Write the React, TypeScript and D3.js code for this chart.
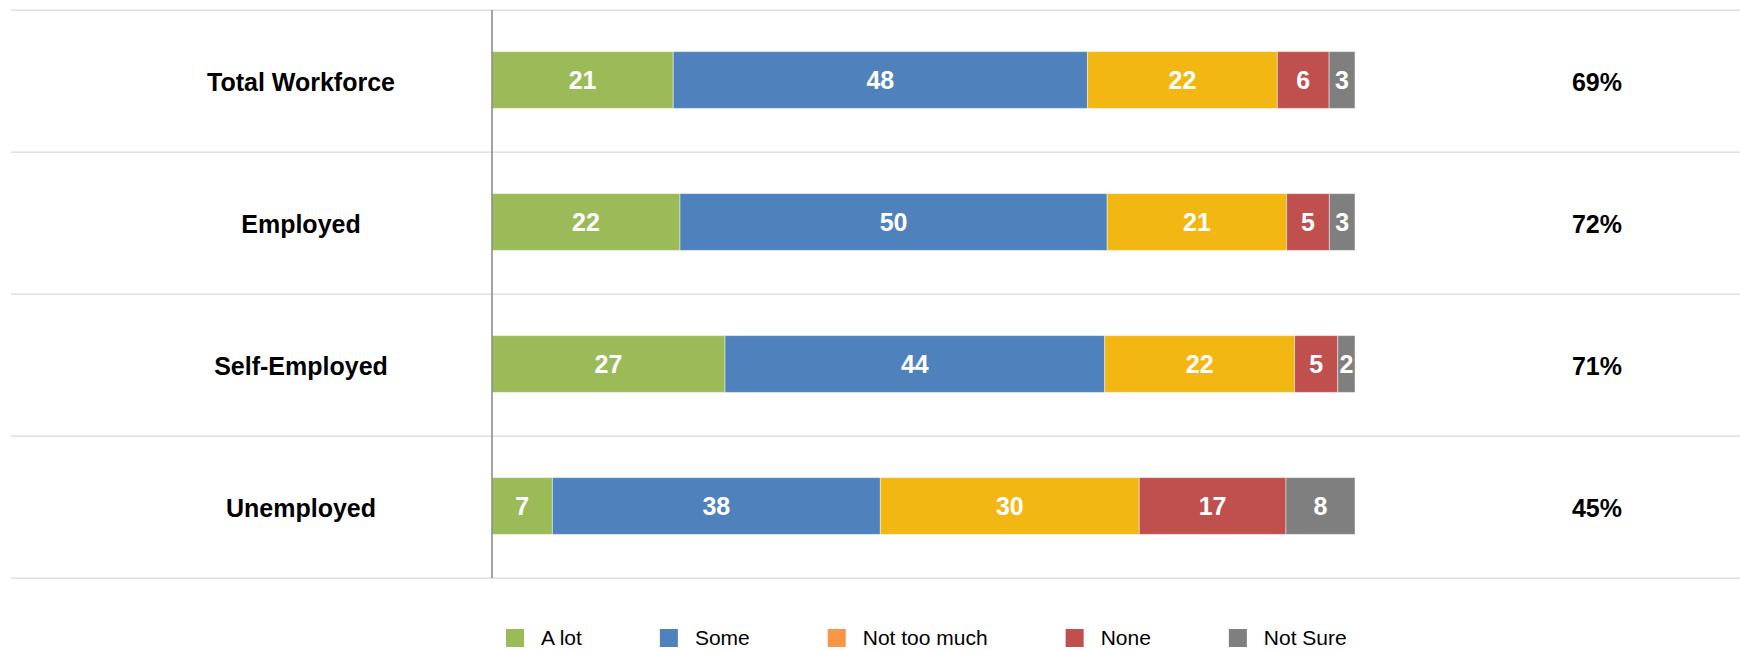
import React, { useEffect, useRef } from "react";
import * as d3 from "d3";

const categories = ["Total Workforce", "Employed", "Self-Employed", "Unemployed"];
const seriesNames = ["A lot", "Some", "Not too much", "None", "Not Sure"];
const aLot = [21, 22, 27, 7];
const some = [48, 50, 44, 38];
const notTooMuch = [22, 21, 22, 30];
const none = [6, 5, 5, 17];
const notSure = [3, 3, 2, 8];
const netPct = ["69%", "72%", "71%", "45%"];

const barColors = ["#9BBB59", "#4F81BD", "#F3B714", "#C0504D", "#7F7F7F"];
const legendColors = ["#9BBB59", "#4F81BD", "#F79646", "#C0504D", "#7F7F7F"];

const W = 1740;
const H = 650;
const FONT = "'Liberation Sans', Arial, sans-serif";

export default function App() {
  const ref = useRef<SVGSVGElement | null>(null);

  useEffect(() => {
    const svg = d3.select(ref.current);
    svg.selectAll("*").remove();

    const seriesArrays = [aLot, some, notTooMuch, none, notSure];
    const rows = categories.map((c, i) => {
      const r: any = { cat: c };
      seriesNames.forEach((s, j) => (r[s] = seriesArrays[j][i]));
      return r;
    });

    const stack = d3.stack<any>().keys(seriesNames).offset(d3.stackOffsetExpand);
    const stacked = stack(rows);

    const x = d3.scaleLinear().domain([0, 1]).range([492, 1355]);
    const y = d3
      .scaleBand<string>()
      .domain(categories)
      .range([10, 578])
      .paddingInner(0.6)
      .paddingOuter(0.3);

    svg.append("rect").attr("width", W).attr("height", H).attr("fill", "#fff");

    // gridlines at band boundaries
    const step = y.step();
    const bounds = d3.range(categories.length + 1).map((i) => 10 + i * step);
    svg
      .append("g")
      .selectAll("line")
      .data(bounds)
      .join("line")
      .attr("x1", 11)
      .attr("x2", W)
      .attr("y1", (d) => d)
      .attr("y2", (d) => d)
      .attr("stroke", "#D9D9D9")
      .attr("stroke-width", 1.25);

    // bars
    const g = svg.append("g");
    stacked.forEach((layer, si) => {
      const lg = g.append("g");
      lg.selectAll("rect")
        .data(layer)
        .join("rect")
        .attr("x", (d) => x(d[0]))
        .attr("width", (d) => x(d[1]) - x(d[0]))
        .attr("y", (d: any) => y(d.data.cat)! - 1)
        .attr("height", y.bandwidth())
        .attr("fill", barColors[si])
        .attr("stroke", "#ffffff")
        .attr("stroke-opacity", 0.45)
        .attr("stroke-width", 1);
      lg.selectAll("text")
        .data(layer)
        .join("text")
        .attr("x", (d) => (x(d[0]) + x(d[1])) / 2)
        .attr("y", (d: any) => y(d.data.cat)! - 1 + y.bandwidth() / 2)
        .attr("dy", "0.36em")
        .attr("text-anchor", "middle")
        .attr("fill", "#fff")
        .attr("font-family", FONT)
        .attr("font-weight", "bold")
        .attr("font-size", 25)
        .text((d: any) => d.data[seriesNames[si]]);
    });

    // axis line
    svg
      .append("line")
      .attr("x1", 492)
      .attr("x2", 492)
      .attr("y1", 10)
      .attr("y2", 578)
      .attr("stroke", "#868686")
      .attr("stroke-width", 1.5);

    // category labels
    svg
      .append("g")
      .selectAll("text")
      .data(categories)
      .join("text")
      .attr("x", 301)
      .attr("y", (d) => y(d)! + y.bandwidth() / 2)
      .attr("dy", "0.38em")
      .attr("text-anchor", "middle")
      .attr("font-family", FONT)
      .attr("font-weight", "bold")
      .attr("font-size", 25)
      .attr("fill", "#000")
      .text((d) => d);

    // net percentages
    svg
      .append("g")
      .selectAll("text")
      .data(categories)
      .join("text")
      .attr("x", 1597)
      .attr("y", (d) => y(d)! + y.bandwidth() / 2)
      .attr("dy", "0.38em")
      .attr("text-anchor", "middle")
      .attr("font-family", FONT)
      .attr("font-weight", "bold")
      .attr("font-size", 25)
      .attr("fill", "#000")
      .text((d, i) => netPct[i]);

    // legend
    const leg = svg.append("g");
    let cx = 506;
    seriesNames.forEach((name, i) => {
      leg
        .append("rect")
        .attr("x", cx)
        .attr("y", 629)
        .attr("width", 18)
        .attr("height", 18)
        .attr("fill", legendColors[i]);
      const t = leg
        .append("text")
        .attr("x", cx + 35)
        .attr("y", 645)
        .attr("font-family", FONT)
        .attr("font-size", 21)
        .attr("fill", "#000")
        .text(name);
      const tw = (t.node() as SVGTextElement).getComputedTextLength();
      cx += 35 + tw + 78;
    });
  }, []);

  return (
    <svg
      ref={ref}
      width={W}
      height={H}
      style={{ position: "absolute", left: 0, top: 0, display: "block" }}
    />
  );
}
